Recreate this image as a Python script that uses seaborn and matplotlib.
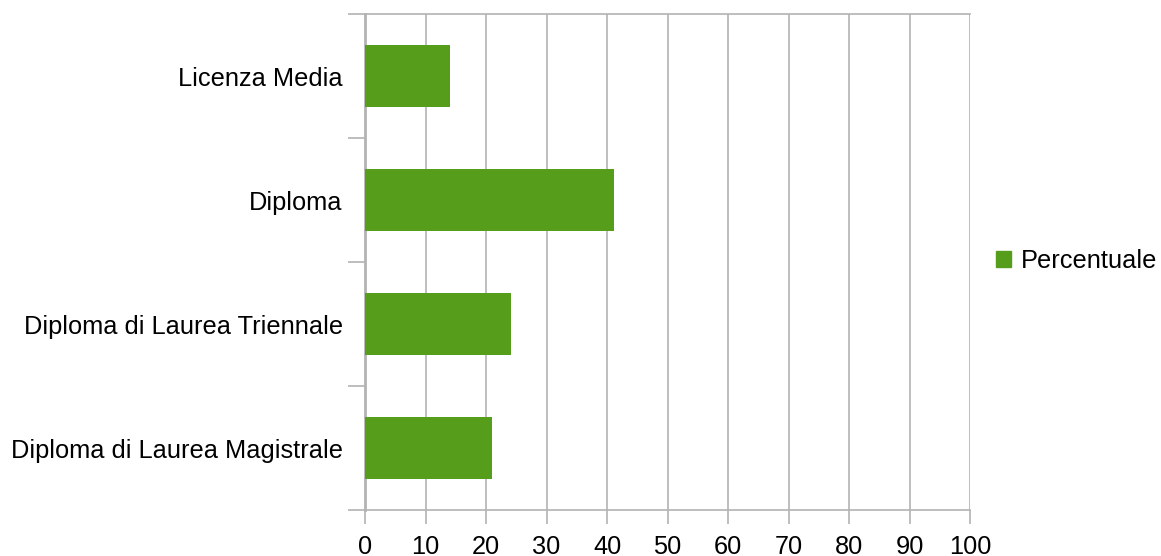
import pandas as pd
import numpy as np
import seaborn as sns
import matplotlib.pyplot as plt
from matplotlib.patches import Patch

categories = ["Licenza Media", "Diploma", "Diploma di Laurea Triennale", "Diploma di Laurea Magistrale"]
values = [14.0, 41.2, 24.1, 21.0]
series_name = "Percentuale"

df = pd.DataFrame({"cat": categories, "val": values})

sns.set_style("white")
plt.rcParams['font.family'] = ['Liberation Sans', 'DejaVu Sans']
plt.rcParams['text.color'] = 'black'
plt.rcParams['xtick.color'] = 'black'
plt.rcParams['ytick.color'] = 'black'

fig = plt.figure(figsize=(11.61, 5.56), dpi=100)
ax = fig.add_axes([0.3144, 0.0827, 0.5211, 0.8921])

green = "#579d1c"
grid_c = "#b3b3b3"
fs = 18.3
sns.barplot(data=df, y="cat", x="val", orient="h", color=green, width=0.5,
            saturation=1, linewidth=0, ax=ax, zorder=3)

ax.set_xlim(0, 100)
ax.set_ylim(len(categories) - 0.5, -0.5)
ax.set_xticks(np.arange(0, 101, 10))
ax.xaxis.grid(True, color=grid_c, linewidth=1.2, zorder=0)
ax.set_xlabel("")
ax.set_ylabel("")

# ticks at category boundaries on the y axis
ax.set_yticks(np.arange(-0.5, len(categories), 1), minor=True)
ax.tick_params(axis="y", which="both", left=True)
ax.tick_params(axis="x", which="major", bottom=True)
ax.tick_params(axis="y", which="major", length=0, pad=16, labelsize=fs, labelcolor="black")
ax.tick_params(axis="y", which="minor", length=12, color=grid_c, width=1.2)
ax.tick_params(axis="x", which="major", length=10, color=grid_c, width=1.2,
               labelsize=fs, pad=8, labelcolor="black")

for s in ["top", "left", "bottom"]:
    ax.spines[s].set_color(grid_c)
    ax.spines[s].set_linewidth(1.2)
ax.spines["right"].set_visible(False)
ax.spines["left"].set_linewidth(2)

handles = [Patch(facecolor=green, edgecolor=green, label=series_name)]
fig.legend(handles=handles, loc="center left", bbox_to_anchor=(0.838, 0.53),
           frameon=False, fontsize=fs, handlelength=0.6, handleheight=0.6,
           handletextpad=0.4)

fig.savefig("out.png", dpi=100)
